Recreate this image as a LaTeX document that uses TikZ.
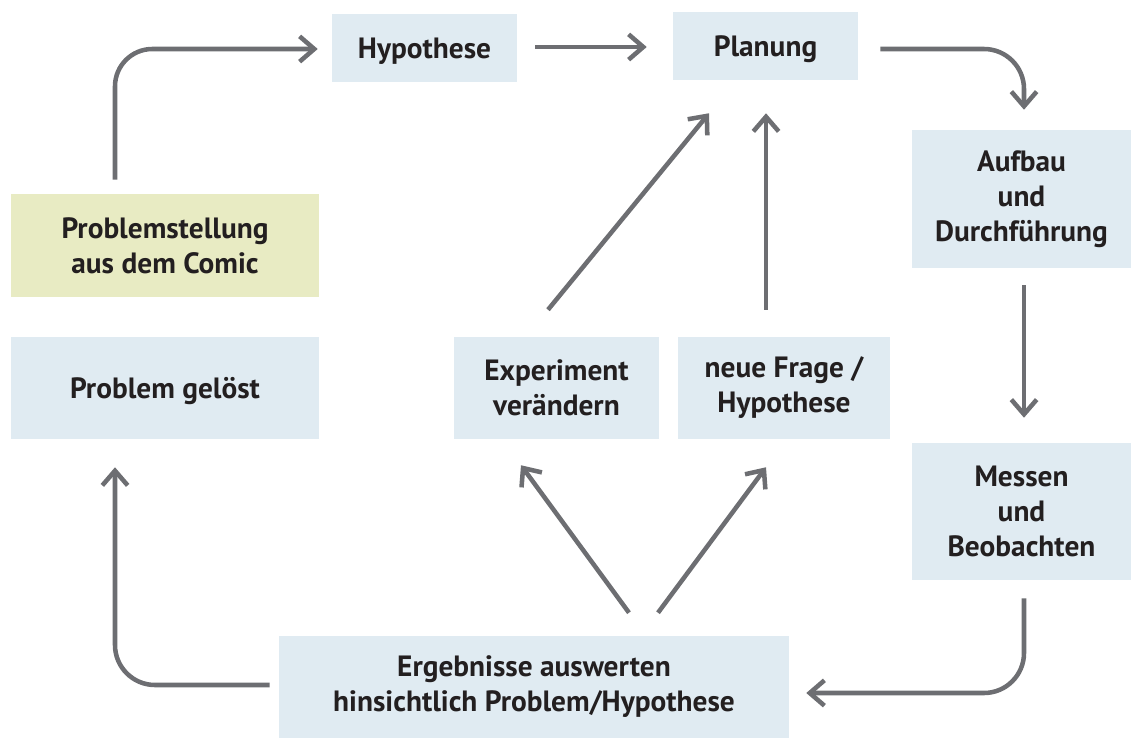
\documentclass[tikz,border=0pt]{standalone}
\usepackage{fontspec}
\setmainfont{PT Sans}
\usepackage{tikz}
\usetikzlibrary{calc}
\usetikzlibrary{arrows.meta}

\definecolor{boxblue}{HTML}{E0EBF2}
\definecolor{boxyellow}{HTML}{E8EBC3}
\definecolor{arrowgray}{HTML}{6D6E72}
\definecolor{textdark}{HTML}{231F20}

\begin{document}
\begin{tikzpicture}[x=0.75pt, y=0.75pt,
		box/.style={fill=boxblue, text=textdark, align=center, inner sep=0pt,
			font=\fontsize{22}{26.3}\selectfont\bfseries},
		oneline/.style={text height=16pt, text depth=0pt},
		arr/.style={draw=arrowgray, line width=3.4pt,
			-{Straight Barb[length=11pt, width=19pt, line width=3.4pt]}}]
			\useasboundingbox (0,0) rectangle (1131,-738);
			\node[box, oneline, minimum width=185*0.75pt, minimum height=68*0.75pt] (hyp) at (424.5,-48) {Hypothese};
			\node[box, oneline, minimum width=185*0.75pt, minimum height=68*0.75pt] (plan) at (765.5,-46) {Planung};
			\node[box, minimum width=219*0.75pt, minimum height=138*0.75pt] (aufbau) at (1021.5,-199) {Aufbau\\und\\Durchführung};
			\node[box, fill=boxyellow, minimum width=308*0.75pt, minimum height=103*0.75pt] (prob) at (165,-245.5) {Problemstellung\\aus dem Comic};
			\node[box, oneline, minimum width=308*0.75pt, minimum height=102*0.75pt] (geloest) at (165,-388) {Problem gelöst};
			\node[box, minimum width=205*0.75pt, minimum height=102*0.75pt] (exp) at (556.5,-388) {Experiment\\verändern};
			\node[box, minimum width=212*0.75pt, minimum height=102*0.75pt] (frage) at (784,-388) {neue Frage /\\Hypothese};
			\node[box, minimum width=219*0.75pt, minimum height=137*0.75pt] (messen) at (1021.5,-511.5) {Messen\\und\\Beobachten};
			\node[box, minimum width=510*0.75pt, minimum height=102*0.75pt] (auswert) at (534,-687) {Ergebnisse auswerten\\hinsichtlich Problem/Hypothese};

			\draw[arr, rounded corners=28pt] ($(prob.north)+(-50,14)$) |- ($(hyp.west)+(-14,-1)$);
			\draw[arr] ($(hyp.east)+(18,1)$) -- ($(plan.west)+(-26,-1)$);
			\draw[arr, rounded corners=30pt] ($(plan.east)+(22,-3)$) -| ($(aufbau.north)+(2.5,20)$);
			\draw[arr] ($(aufbau.south)+(2.5,-17)$) -- ($(messen.north)+(2.5,25)$);
			\draw[arr, rounded corners=30pt] ($(messen.south)+(2.5,-18)$) |- ($(auswert.east)+(17,-6)$);
			\draw[arr, rounded corners=30pt] ($(auswert.west)+(-9,2)$) -| ($(geloest.south)+(-50,-28)$);
			\draw[arr] ($(auswert.north)+(95,23)$) -- ($(exp.south)+(-35.5,-26)$);
			\draw[arr] ($(auswert.north)+(124,23)$) -- ($(frage.south)+(-18,-28)$);
			\draw[arr] ($(exp.north)+(-8.5,27)$) -- ($(plan.south)+(-56.5,-33)$);
			\draw[arr] ($(frage.north)+(-18,27)$) -- ($(plan.south)+(0.5,-33)$);
		\end{tikzpicture}
\end{document}
